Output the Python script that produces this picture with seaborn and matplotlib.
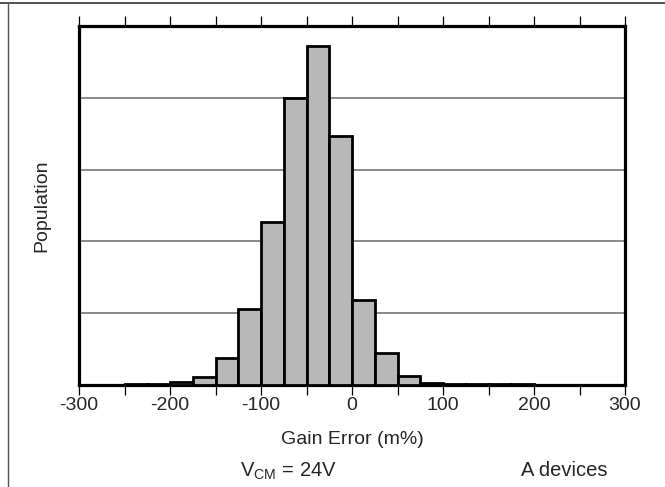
import numpy as np
import matplotlib
matplotlib.use("Agg")
import matplotlib.pyplot as plt
import seaborn as sns
from matplotlib.lines import Line2D
from matplotlib.ticker import MultipleLocator

# Bin left edges (m%) and population counts (relative, gridline step = 100)
bin_left = [-250, -225, -200, -175, -150, -125, -100, -75, -50, -25,
            0, 25, 50, 75, 100, 125, 150, 175]
population = [1.2, 1.5, 4.6, 11.6, 37, 106, 227, 400, 472, 347,
              119, 44, 13, 3, 1.5, 0.8, 1.2, 1.2]
bin_width = 25
x_ticks = [-300, -200, -100, 0, 100, 200, 300]
x_tick_labels = ["-300", "-200", "-100", "0", "100", "200", "300"]

sns.set_style("white")
plt.rcParams['font.family'] = ['Liberation Sans', 'DejaVu Sans']
plt.rcParams['mathtext.fontset'] = 'custom'
plt.rcParams['mathtext.rm'] = 'Liberation Sans'
plt.rcParams['mathtext.it'] = 'Liberation Sans'

W, H = 665, 487
fig = plt.figure(figsize=(6.65, 4.87), dpi=100)
ax = fig.add_axes([79/W, 1-385/H, (625-79)/W, (385-26)/H])

centers = [b + bin_width/2 for b in bin_left]
edges = list(bin_left) + [bin_left[-1] + bin_width]
sns.histplot(x=centers, weights=population, bins=edges, ax=ax,
             color="#b8b8b8", edgecolor="black", linewidth=2.0, alpha=1.0,
             zorder=3)

ax.set_xlim(-300, 300)
ax.set_ylim(0, 500)
ax.yaxis.set_major_locator(MultipleLocator(100))
ax.grid(axis='y', color="#808080", linewidth=1.3, zorder=1)
ax.set_axisbelow(True)
ax.set_yticklabels([])
ax.tick_params(axis='y', left=False, right=False, length=0)

ax.set_xticks(x_ticks)
ax.set_xticklabels(x_tick_labels, fontsize=14)
ax.xaxis.set_minor_locator(MultipleLocator(50))
ax.tick_params(axis='x', which='both', direction='out', length=7.5, width=0.9,
               top=True, bottom=True, color='black', pad=1)

for s in ax.spines.values():
    s.set_linewidth(2.3)
    s.set_color('black')
    s.set_visible(True)

ax.set_xlabel("Gain Error (m%)", fontsize=14)
ax.xaxis.set_label_coords(0.5, (385-440)/(385-26))
ax.xaxis.label.set_va('center')
ax.set_ylabel("Population", fontsize=14)
ax.yaxis.set_label_coords((42-79)/(625-79), 0.5)
ax.yaxis.label.set_va('center')
ax.yaxis.label.set_ha('center')

fig.text(288/W, 1-471/H, r"V$_{\mathrm{CM}}$ = 24V", fontsize=14.5,
         ha='center', va='center')
fig.text(564/W, 1-471/H, "A devices", fontsize=14.5, ha='center', va='center')

# outer frame lines (top and left)
fig.add_artist(Line2D([0, 1], [1-3/H, 1-3/H], transform=fig.transFigure,
                      color="#333333", linewidth=1.2))
fig.add_artist(Line2D([8/W, 8/W], [0, 1-3/H], transform=fig.transFigure,
                      color="#555555", linewidth=1.0))

fig.savefig("out.png", dpi=100)
